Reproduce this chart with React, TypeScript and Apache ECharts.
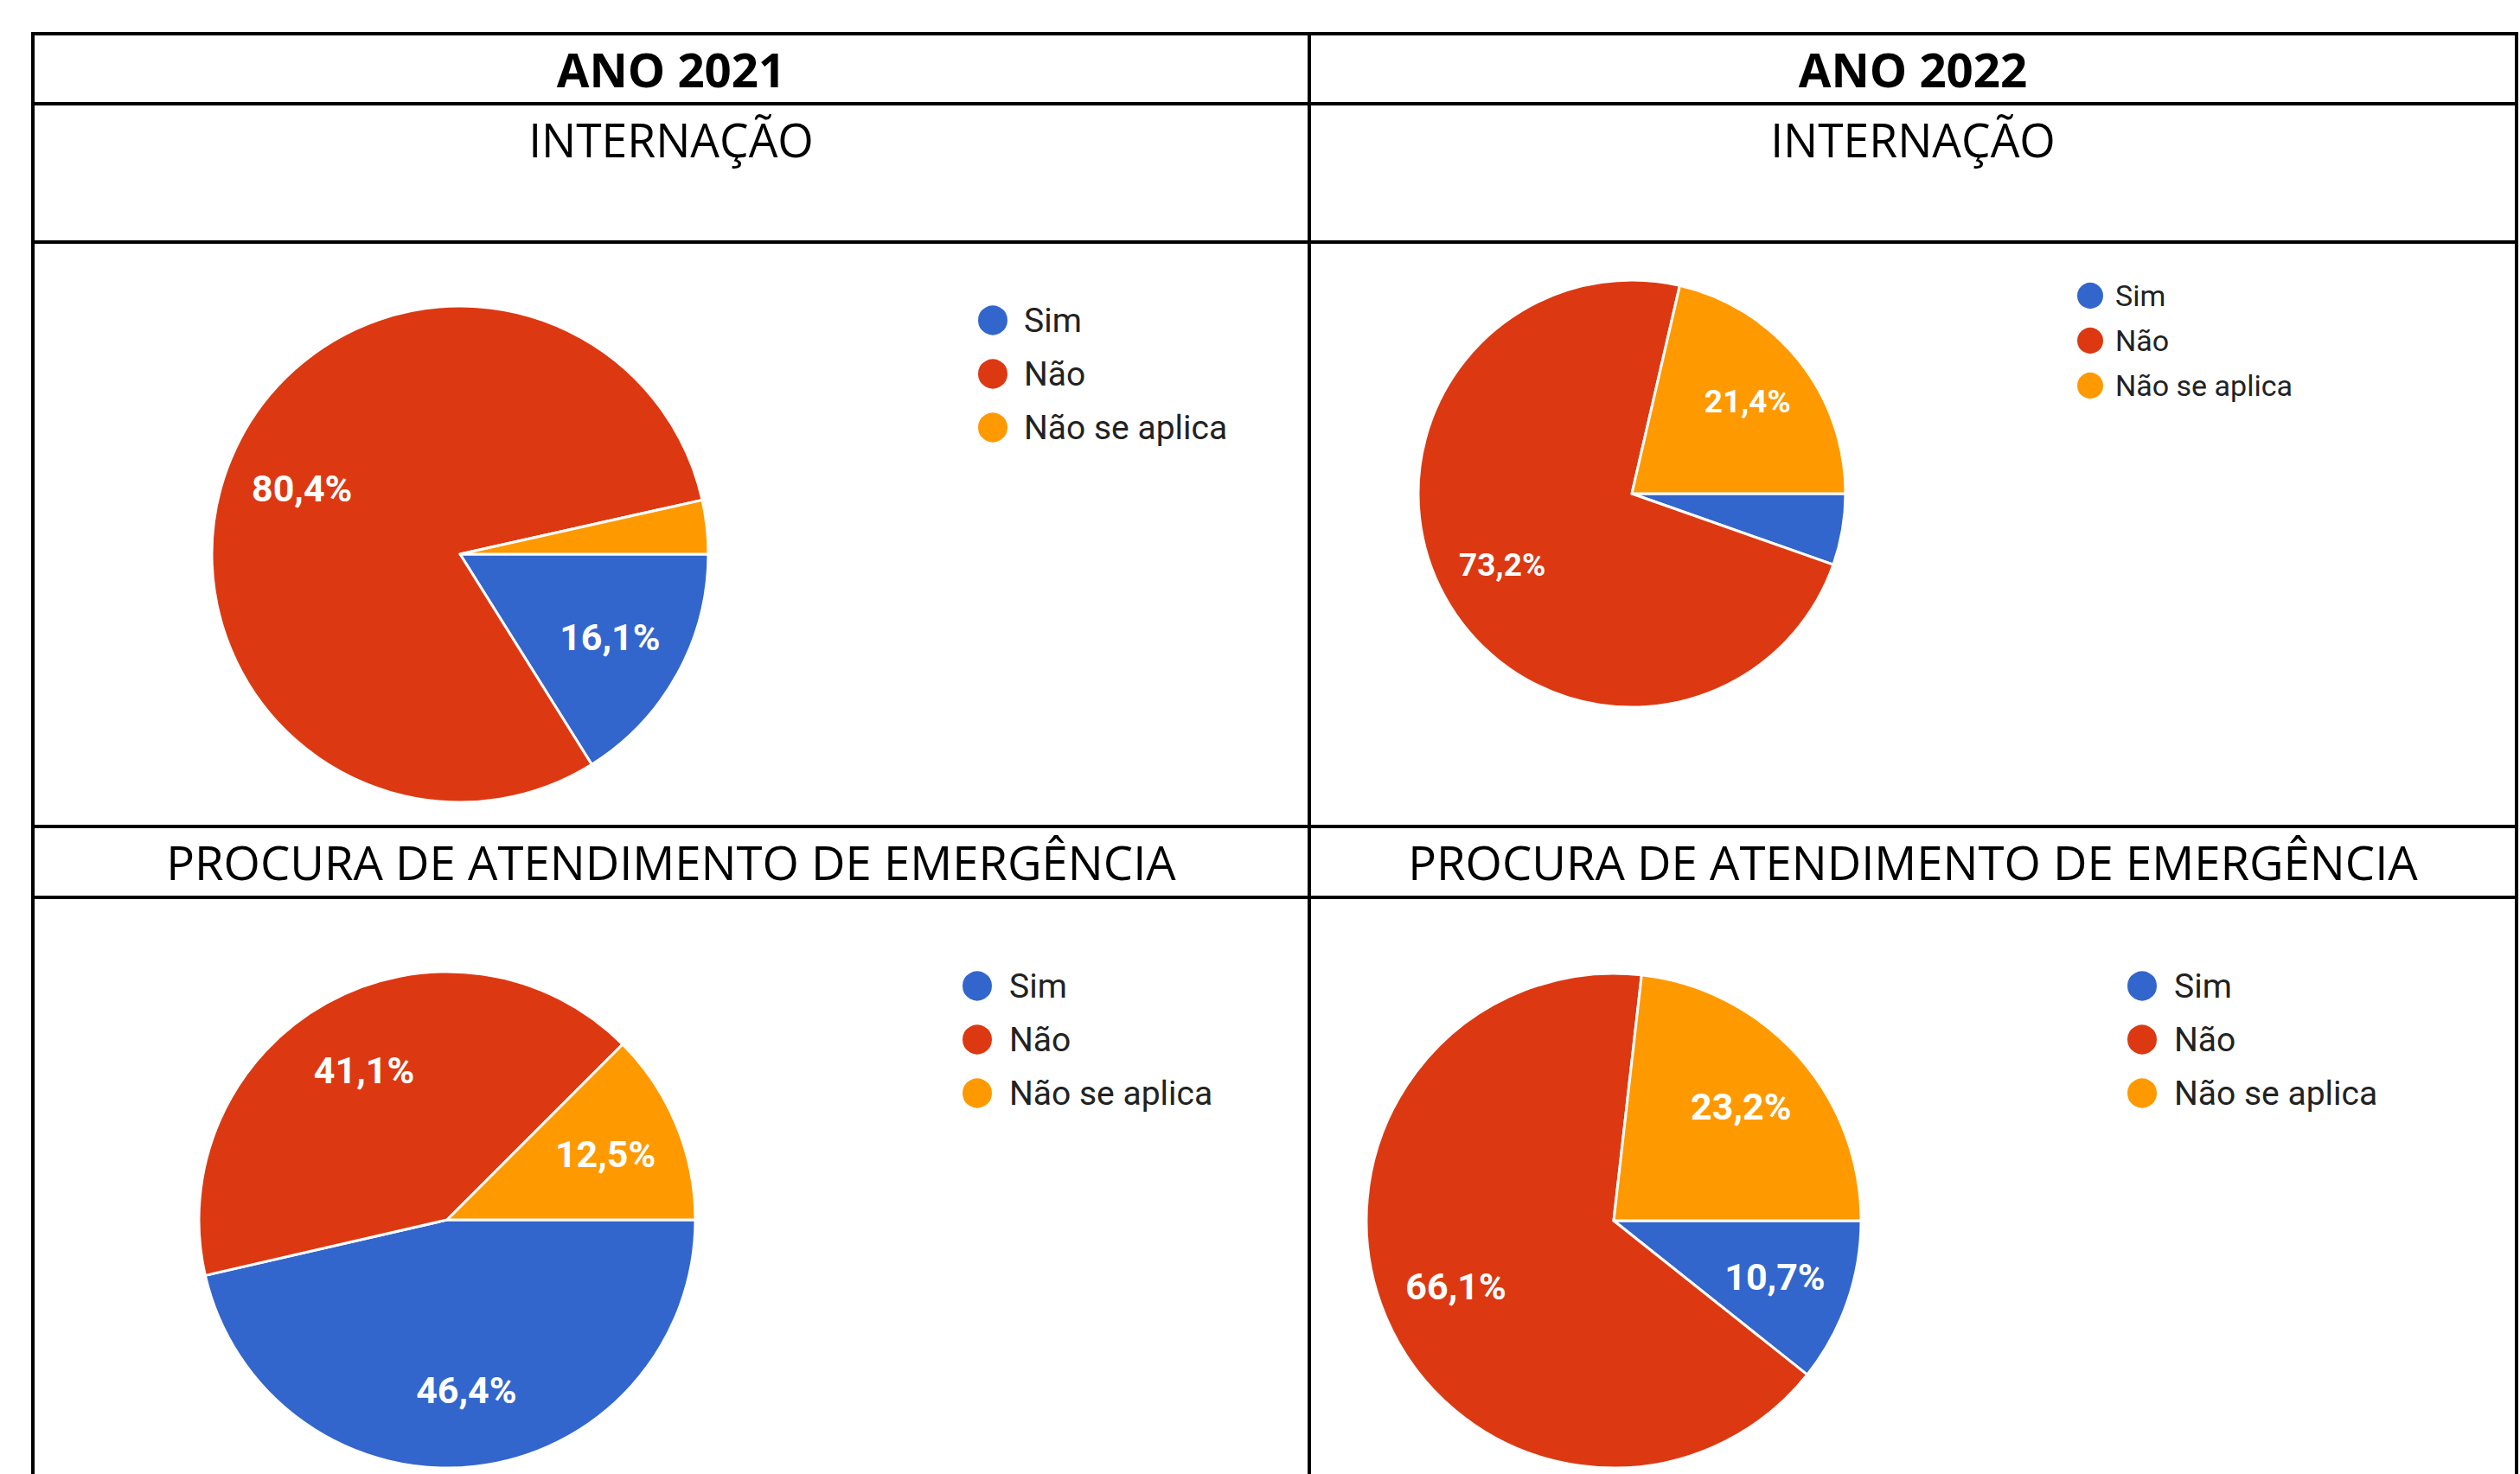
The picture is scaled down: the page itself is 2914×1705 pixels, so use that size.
import React, { useEffect, useRef } from 'react';
import * as echarts from 'echarts';

// ---- Data ----
const categories = ['Sim', 'Não', 'Não se aplica'];
const sliceColors = ['#3366cc', '#dc3912', '#ff9900'];
const internacao2021 = [16.1, 80.4, 3.5];
const internacao2022 = [5.4, 73.2, 21.4];
const emergencia2021 = [46.4, 41.1, 12.5];
const emergencia2022 = [10.7, 66.1, 23.2];
const yearHeaders = ['ANO 2021', 'ANO 2022'];
const sectionTitles = ['INTERNAÇÃO', 'PROCURA DE ATENDIMENTO DE EMERGÊNCIA'];
const labelThreshold = 6; // slices smaller than this (in %) carry no label

const W = 2914;
const H = 1705;

function fmt(v: number) {
  return v.toFixed(1).replace('.', ',') + '%';
}

function pieSeries(values: number[], center: number[], r: number, fontSize: number) {
  return [
    {
      type: 'pie',
      center,
      radius: [0, r],
      startAngle: 0,
      clockwise: true,
      avoidLabelOverlap: false,
      data: values.map((v, i) => ({ name: categories[i], value: v })),
      label: { show: false },
      labelLine: { show: false },
      itemStyle: { borderColor: '#ffffff', borderWidth: 3 },
      emphasis: { disabled: true },
    },
    {
      type: 'pie',
      center,
      radius: [r * 0.36, r],
      startAngle: 0,
      clockwise: true,
      silent: true,
      avoidLabelOverlap: false,
      legendHoverLink: false,
      data: values.map((v, i) => ({
        name: categories[i],
        value: v,
        label: { show: v >= labelThreshold },
      })),
      itemStyle: { color: 'rgba(0,0,0,0)', borderWidth: 0 },
      label: {
        show: true,
        position: 'inside',
        formatter: (p: any) => fmt(p.value),
        color: '#ffffff',
        fontSize,
        fontFamily: 'Roboto',
        fontWeight: 'bold',
      },
      labelLine: { show: false },
      emphasis: { disabled: true },
    },
  ];
}

function legendAt(left: number, top: number, size: number, gap: number, fontSize: number, pad: number) {
  return {
    orient: 'vertical',
    left,
    top,
    padding: 0,
    icon: 'circle',
    itemWidth: size,
    itemHeight: size,
    itemGap: gap,
    selectedMode: false,
    data: categories,
    textStyle: {
      fontFamily: 'Roboto',
      fontSize,
      color: '#222222',
      padding: [0, 0, 0, pad],
    },
  };
}

export default function App() {
  const ref = useRef<HTMLDivElement>(null);

  useEffect(() => {
    if (!ref.current) return;
    const chart = echarts.init(ref.current, null, { renderer: 'svg', width: W, height: H });

    const lineW = 4;
    const L = 38, R = 2910, M = 1514, T = 39;
    const hLines = [T, 120, 280, 956, 1038];
    const colCenters = [(L + M) / 2, (M + R) / 2];

    const graphics: any[] = [];
    hLines.forEach((y) => {
      graphics.push({
        type: 'line',
        shape: { x1: L - lineW / 2, y1: y, x2: R + lineW / 2, y2: y },
        style: { stroke: '#000', lineWidth: lineW },
        silent: true,
      });
    });
    [L, M, R].forEach((x) => {
      graphics.push({
        type: 'line',
        shape: { x1: x, y1: T, x2: x, y2: H + 10 },
        style: { stroke: '#000', lineWidth: lineW },
        silent: true,
      });
    });
    colCenters.forEach((cx, c) => {
      graphics.push({
        type: 'text',
        x: cx,
        y: 80,
        scaleX: 1.03,
        style: {
          text: yearHeaders[c],
          fontFamily: 'Open Sans',
          fontWeight: 'bold',
          fontSize: 53,
          fill: '#000',
          textAlign: 'center',
          textVerticalAlign: 'middle',
        },
        silent: true,
      });
      graphics.push({
        type: 'text',
        x: cx,
        y: 161,
        scaleX: 0.97,
        style: {
          text: sectionTitles[0],
          fontFamily: 'Open Sans',
          fontSize: 55,
          fill: '#000',
          textAlign: 'center',
          textVerticalAlign: 'middle',
        },
        silent: true,
      });
      graphics.push({
        type: 'text',
        x: cx,
        y: 997,
        scaleX: 0.99,
        style: {
          text: sectionTitles[1],
          fontFamily: 'Open Sans',
          fontSize: 55,
          fill: '#000',
          textAlign: 'center',
          textVerticalAlign: 'middle',
        },
        silent: true,
      });
    });

    const option: any = {
      animation: false,
      backgroundColor: '#ffffff',
      color: sliceColors,
      legend: [
        legendAt(1129, 351, 36, 23, 39, 13),
        legendAt(2400, 325, 32, 18, 34, 8),
        legendAt(1111, 1121, 36, 23, 39, 14),
        legendAt(2458, 1121, 36, 23, 39, 14),
      ],
      series: [
        ...pieSeries(internacao2021, [532, 641], 287, 43),
        ...pieSeries(internacao2022, [1887, 571], 247, 37),
        ...pieSeries(emergencia2021, [517, 1411], 287, 43),
        ...pieSeries(emergencia2022, [1866, 1412], 286, 43),
      ],
      graphic: graphics,
    };
    chart.setOption(option);
    return () => chart.dispose();
  }, []);

  return (
    <div
      ref={ref}
      style={{ position: 'absolute', left: 0, top: 0, width: W, height: H, background: '#fff' }}
    />
  );
}
